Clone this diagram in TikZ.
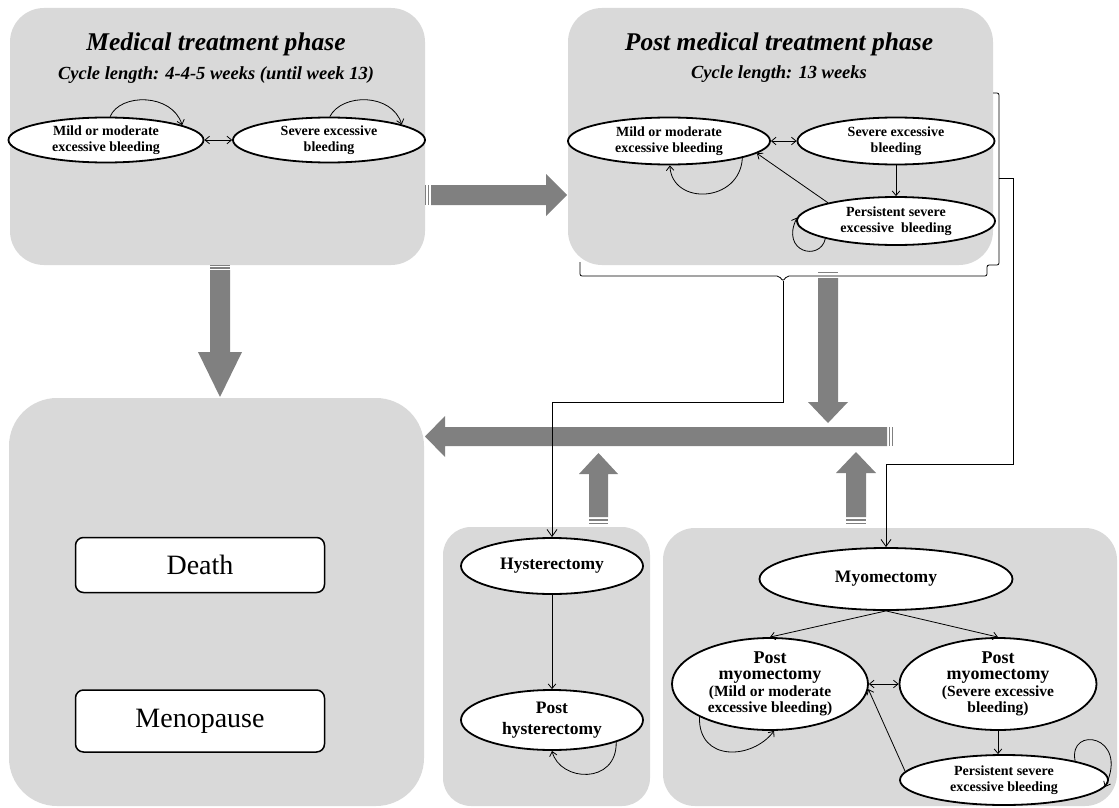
\documentclass[tikz,border=0pt]{standalone}
\usepackage{fontspec}
\setmainfont{Liberation Serif}
\usetikzlibrary{shapes.geometric,arrows.meta}
\definecolor{panelgray}{HTML}{D9D9D9}
\definecolor{bigg}{HTML}{808080}
\newcommand{\bigf}{\fontsize{18}{21}\selectfont}
\newcommand{\smallf}{\fontsize{15.5}{17}\selectfont}
\tikzset{
  panel/.style={rectangle, fill=panelgray, draw=none, inner sep=0pt},
  st/.style={ellipse, draw=black, line width=1.8pt, fill=white, inner sep=0pt, align=center,
             font=\bfseries\fontsize{14}{16.5}\selectfont},
  endbox/.style={rectangle, rounded corners=8pt, draw=black, line width=1.5pt, fill=white,
             inner sep=0pt, font=\fontsize{28}{32}\selectfont},
  ptitle/.style={font=\bfseries\itshape\fontsize{25.5}{28}\selectfont, inner sep=0pt},
  psub/.style={font=\bfseries\itshape\fontsize{18.5}{20}\selectfont, inner sep=0pt},
  thinline/.style={draw=black, line width=0.8pt},
  tarr/.style={thinline, -{Straight Barb[length=4.5pt,width=7.5pt]}},
  darr/.style={thinline, {Straight Barb[length=4.5pt,width=7.5pt]}-{Straight Barb[length=4.5pt,width=7.5pt]}},
  longarr/.style={thinline, -{Straight Barb[length=7pt,width=10pt]}},
  bigfill/.style={fill=bigg, draw=none},
  stripe/.style={draw=bigg, line width=1.2pt},
}
\begin{document}
\begin{tikzpicture}[x=1pt,y=-1pt]
\useasboundingbox (0,0) rectangle (1119,808);

% panels
\node[panel, rounded corners=34pt, minimum width=415pt, minimum height=257pt] (P1) at (217.5,136.5) {};
\node[panel, rounded corners=34pt, minimum width=425pt, minimum height=257pt] (P2) at (780.5,136.5) {};
\node[panel, rounded corners=48pt, minimum width=415pt, minimum height=408pt] (P3) at (216.5,602) {};
\node[panel, rounded corners=28pt, minimum width=207pt, minimum height=279pt] (P4) at (546.5,666.5) {};
\node[panel, rounded corners=32pt, minimum width=454pt, minimum height=278pt] (P5) at (890,667) {};

% big arrows
\fill[bigfill] (431,185) -- (546,185) -- (546,174) -- (567,195) -- (546,216) -- (546,205) -- (431,205) -- cycle;
\draw[stripe] (425.5,185) -- (425.5,205);
\draw[stripe] (428.2,185) -- (428.2,205);

\fill[bigfill] (210,270) -- (210,352) -- (198,352) -- (220,397) -- (242,352) -- (230,352) -- (230,270) -- cycle;
\draw[stripe] (210,265.5) -- (230,265.5);
\draw[stripe] (210,268) -- (230,268);

\fill[bigfill] (818,278) -- (818,402) -- (808,402) -- (828,423) -- (848,402) -- (838,402) -- (838,278) -- cycle;
\draw[stripe] (818,272.5) -- (838,272.5);

\fill[bigfill] (887,427) -- (445,427) -- (445,416) -- (425,436.5) -- (445,457) -- (445,446) -- (887,446) -- cycle;
\draw[stripe] (889.5,427) -- (889.5,446);
\draw[stripe] (892.2,427) -- (892.2,446);

\fill[bigfill] (589,517) -- (589,474) -- (579,474) -- (598.5,453) -- (618,474) -- (608,474) -- (608,517) -- cycle;
\draw[stripe] (589,520) -- (608,520);
\draw[stripe] (589,523.5) -- (608,523.5);

\fill[bigfill] (846,517) -- (846,473) -- (836,473) -- (856,452) -- (876,473) -- (866,473) -- (866,517) -- cycle;
\draw[stripe] (846,520) -- (866,520);
\draw[stripe] (846,523.5) -- (866,523.5);

% panel 1
\node[ptitle] (t1) at (216,44) {Medical treatment phase};
\node[psub] (s1) at (216,75) {Cycle length: 4-4-5 weeks (until week 13)};
\node[st, minimum width=195pt, minimum height=45pt] (a1) at (106,140) {Mild or moderate\\excessive bleeding};
\node[st, minimum width=192pt, minimum height=45pt] (a2) at (329,140) {Severe excessive\\bleeding};
\draw[darr] (a1.east) -- (a2.west);
\draw[tarr] (a1.80) .. controls (120,93) and (172,93) .. (a1.11);
\draw[tarr] (a2.88) .. controls (342,93) and (392,93) .. (a2.12);

% panel 2
\node[ptitle] (t2) at (779,44) {Post medical treatment phase};
\node[psub] (s2) at (779,74) {Cycle length: 13 weeks};
\node[st, minimum width=202pt, minimum height=47pt] (b1) at (669,141) {Mild or moderate\\excessive bleeding};
\node[st, minimum width=197pt, minimum height=47pt] (b2) at (896,141) {Severe excessive\\bleeding};
\node[st, minimum width=198pt, minimum height=48pt] (b3) at (896,221) {Persistent severe\\excessive~~bleeding};
\draw[darr] (b1.east) -- (b2.west);
\draw[tarr] (b2.south) -- (b3.north);
\draw[tarr] (b3.165) -- (b1.-8);
\draw[tarr] (b1.-13) .. controls (740,203) and (672,206) .. (b1.-88);
\draw[tarr] (b3.194) .. controls (820,262) and (780,252) .. (b3.178);

% braces
\coordinate (braceB) at (783,281);
\coordinate (braceR) at (999,178);
\draw[thinline, rounded corners=2pt] (580,262) -- (580,276) -- (779,276) -- (braceB) -- (787,276) -- (987,276) -- (987,265) -- (999,265) -- (999,182) -- (braceR);
\draw[thinline, rounded corners=2pt] (993,93) -- (999,93) -- (999,174) -- (braceR);

% panel 3
\node[endbox, minimum width=249pt, minimum height=55pt] (death) at (200,565) {Death};
\node[endbox, minimum width=249pt, minimum height=62pt] (meno) at (200,721) {Menopause};

% panel 4
\node[st, minimum width=182pt, minimum height=56pt, font=\bfseries\fontsize{17.5}{21}\selectfont] (hyst) at (552,566) {Hysterectomy};
\node[st, minimum width=182pt, minimum height=60pt, font=\bfseries\fontsize{17.5}{21}\selectfont] (physt) at (552,720) {Post\\hysterectomy};
\draw[tarr] (hyst.south) -- (physt.north);
\draw[tarr] (physt.-19) .. controls (617,785) and (560,782) .. (physt.-90);

% panel 5
\node[st, minimum width=253pt, minimum height=62pt, font=\bfseries\fontsize{17.5}{21}\selectfont] (myo) at (886,579) {Myomectomy};
\node[st, minimum width=196pt, minimum height=92pt] (pm1) at (770,684) {\bigf Post\\\bigf myomectomy\\\smallf (Mild or moderate\\\smallf excessive bleeding)};
\node[st, minimum width=197pt, minimum height=92pt] (pm2) at (998,684) {\bigf Post\\\bigf myomectomy\\\smallf (Severe excessive\\\smallf bleeding)};
\node[st, minimum width=208pt, minimum height=50pt] (pp) at (1004,780) {Persistent severe\\excessive bleeding};
\draw[tarr] (myo.south) -- (pm1.north);
\draw[tarr] (myo.south) -- (pm2.north);
\draw[darr] (pm1.east) -- (pm2.west);
\draw[tarr] (pm2.south) -- (pm2.south |- pp.north);
\draw[tarr] (pp.175) -- (pm1.-3);
\draw[tarr] (pm1.205) .. controls (698,762) and (752,760) .. (pm1.-85);
\draw[tarr] (pp.15) .. controls (1068,725) and (1130,735) .. (pp.-4);

% long connectors from braces
\draw[longarr] (braceB) -- (783,402) -| (hyst.north);
\draw[longarr] (braceR) -- (1013,178) -- (1013,464) -| (myo.north);
\end{tikzpicture}
\end{document}
